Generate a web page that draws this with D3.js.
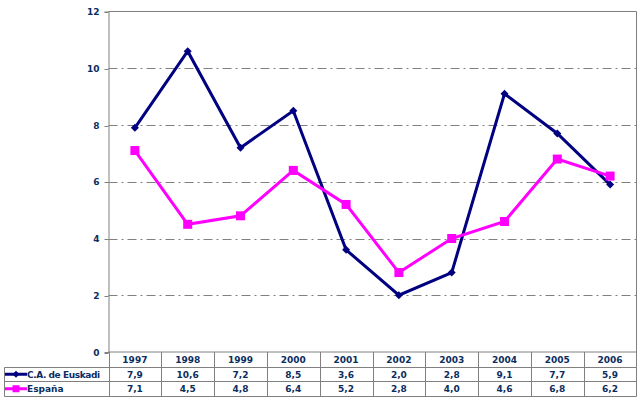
<!DOCTYPE html>
<html><head><meta charset="utf-8">
<script src="https://cdn.jsdelivr.net/npm/d3@7"></script>
<style>body{margin:0;background:#fff}svg{display:block}text{font-family:"DejaVu Sans",Verdana,sans-serif;font-weight:bold;fill:#0b2d5e}</style>
</head><body>
<script>
const years = ["1997","1998","1999","2000","2001","2002","2003","2004","2005","2006"];
const euskadi = [7.9,10.6,7.2,8.5,3.6,2.0,2.8,9.1,7.7,5.9];
const espana = [7.1,4.5,4.8,6.4,5.2,2.8,4.0,4.6,6.8,6.2];
const yTicks = [0,2,4,6,8,10,12];
const seriesNames = ["C.A. de Euskadi","España"];
const fmt = v => v.toFixed(1).replace(".", ",");

const W = 643, H = 401;
const L = 108.5, R = 636.5, T = 11.5, B = 352;
const rowH = 14.5;
const tableLeft = 4.5;

const svg = d3.select("body").append("svg").attr("width", W).attr("height", H);
const x = d3.scaleBand().domain(years).range([L, R]);
const y = d3.scaleLinear().domain([0, 12]).range([B, T]);
const grid = "#808080";

svg.append("g").selectAll("line").data(yTicks.filter(t => t > 0 && t < 12)).join("line")
  .attr("x1", L).attr("x2", R).attr("y1", d => Math.round(y(d)) + 0.5).attr("y2", d => Math.round(y(d)) + 0.5)
  .attr("stroke", grid).attr("stroke-width", 1).attr("stroke-dasharray", "9,4,2,4");
svg.append("path").attr("d", `M${L},${T}H${R}V${B}`).attr("fill", "none").attr("stroke", grid);

const yAxis = svg.append("g").attr("transform", `translate(${L},0)`)
  .call(d3.axisLeft(y).tickValues(yTicks).tickSize(4).tickPadding(5).tickFormat(d3.format("d")));
yAxis.select(".domain").attr("stroke", grid);
yAxis.selectAll(".tick line").attr("stroke", grid);
yAxis.selectAll("text").attr("font-size", "9px").attr("font-family", "DejaVu Sans").attr("font-weight", "bold").attr("fill", "#0b2d5e");
yAxis.selectAll(".tick").each(function(){ d3.select(this).attr("transform", d3.select(this).attr("transform").replace(/,([\d.]+)\)/, (m,v)=>","+(Math.round(+v)+0.5)+")")); });

const tb = svg.append("g").attr("stroke", grid).attr("fill", "none");
const rowsY = [B, B + rowH, B + 2 * rowH, B + 3 * rowH];
tb.append("line").attr("x1", L).attr("x2", R).attr("y1", B).attr("y2", B);
[1,2,3].forEach(i => tb.append("line").attr("x1", tableLeft).attr("x2", R).attr("y1", Math.round(rowsY[i]) + 0.5).attr("y2", Math.round(rowsY[i]) + 0.5));
tb.append("line").attr("x1", tableLeft).attr("x2", tableLeft).attr("y1", Math.round(rowsY[1]) + 0.5).attr("y2", Math.round(rowsY[3]) + 0.5);
years.forEach(yr => tb.append("line").attr("x1", Math.round(x(yr)) + 0.5).attr("x2", Math.round(x(yr)) + 0.5).attr("y1", B).attr("y2", Math.round(rowsY[3]) + 0.5));
tb.append("line").attr("x1", R).attr("x2", R).attr("y1", B).attr("y2", Math.round(rowsY[3]) + 0.5);

const cx = d => x(d) + x.bandwidth() / 2;
const ts = "9px";
svg.append("g").selectAll("text").data(years).join("text")
  .attr("x", cx).attr("y", B + rowH - 3.5).attr("text-anchor", "middle").attr("font-size", ts).text(d => d);
[euskadi, espana].forEach((vals, i) => {
  svg.append("g").selectAll("text").data(vals).join("text")
    .attr("x", (d, j) => cx(years[j])).attr("y", B + rowH * (i + 2) - 3.5).attr("text-anchor", "middle").attr("font-size", ts).text(fmt);
  svg.append("text").attr("x", 27).attr("y", B + rowH * (i + 2) - 3.5).attr("font-size", ts).attr("textLength", i === 0 ? 73 : null).text(seriesNames[i]);
});

const colors = ["#000080", "#ff00ff"];
const data = [euskadi, espana];
const line = d3.line().x((d, j) => cx(years[j])).y(d => y(d));
data.forEach((vals, i) => {
  svg.append("path").datum(vals).attr("d", line).attr("fill", "none").attr("stroke", colors[i]).attr("stroke-width", 3).attr("stroke-linejoin", "miter");
});
const diamond = (g, px, py, s) => g.append("path").attr("d", `M${px},${py - s}L${px + s},${py}L${px},${py + s}L${px - s},${py}Z`).attr("fill", colors[0]);
const square = (g, px, py, s) => g.append("rect").attr("x", px - s).attr("y", py - s).attr("width", 2 * s).attr("height", 2 * s).attr("fill", colors[1]);
const mk = svg.append("g");
euskadi.forEach((v, j) => diamond(mk, cx(years[j]), y(v), 4));
espana.forEach((v, j) => square(mk, cx(years[j]), y(v), 4.5));

const ly1 = B + rowH * 1.5 + 0.5, ly2 = B + rowH * 2.5 + 0.5;
svg.append("line").attr("x1", 5).attr("x2", 27).attr("y1", ly1).attr("y2", ly1).attr("stroke", colors[0]).attr("stroke-width", 3);
diamond(svg, 16, ly1, 3.5);
svg.append("line").attr("x1", 5).attr("x2", 27).attr("y1", ly2).attr("y2", ly2).attr("stroke", colors[1]).attr("stroke-width", 3);
square(svg, 16, ly2, 3.5);
</script>
</body></html>
